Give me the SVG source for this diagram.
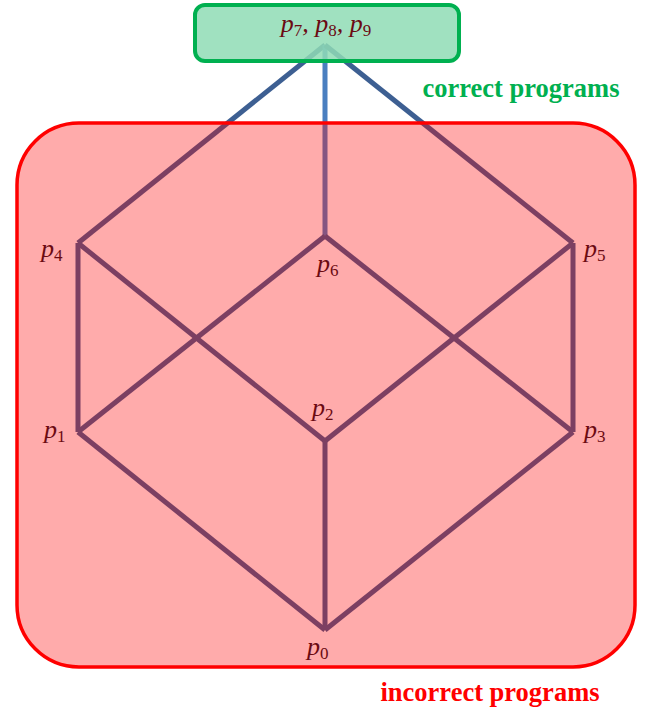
<svg xmlns="http://www.w3.org/2000/svg" width="651" height="713" viewBox="0 0 651 713">
<style>
.edge{stroke:#3d5f92;stroke-width:5;fill:none;stroke-linecap:butt}
.mid{stroke:#4a7fc0}
.lbl{font-family:"Liberation Serif",serif;font-style:italic;font-size:26px;fill:#6b0a12}
.sub{font-style:normal;font-size:17px}
.cap{font-family:"Liberation Serif",serif;font-weight:bold;font-size:26.5px}
</style>
<rect width="651" height="713" fill="#ffffff"/>
<g id="connectors">
<line class="edge" x1="325" y1="45" x2="78" y2="243"/>
<line class="edge mid" x1="325" y1="45" x2="325" y2="236"/>
<line class="edge" x1="325" y1="45" x2="573" y2="243"/>
<line class="edge" x1="78" y1="243" x2="78" y2="432"/>
<line class="edge" x1="78" y1="243" x2="325" y2="441"/>
<line class="edge" x1="325" y1="236" x2="78" y2="432"/>
<line class="edge" x1="325" y1="236" x2="573" y2="432"/>
<line class="edge" x1="573" y1="243" x2="325" y2="441"/>
<line class="edge" x1="573" y1="243" x2="573" y2="432"/>
<line class="edge" x1="78" y1="432" x2="325" y2="630"/>
<line class="edge" x1="325" y1="441" x2="325" y2="630"/>
<line class="edge" x1="573" y1="432" x2="325" y2="630"/>
</g>
<g id="incorrect">
<rect x="17" y="123" width="618" height="544" rx="62" fill="#ff0000" fill-opacity="0.33" stroke="#ff0000" stroke-width="3.5"/>
<text class="cap" x="490" y="701" text-anchor="middle" fill="#ff0000">incorrect programs</text>
</g>
<g id="correct">
<rect x="195" y="5" width="264" height="56" rx="10" fill="#8fdcb5" fill-opacity="0.85" stroke="#00b050" stroke-width="4"/>
<text class="lbl" x="326" y="32" text-anchor="middle">p<tspan class="sub" dy="4">7</tspan><tspan dy="-4">, p</tspan><tspan class="sub" dy="4">8</tspan><tspan dy="-4">, p</tspan><tspan class="sub" dy="4">9</tspan></text>
<text class="cap" x="521" y="97" text-anchor="middle" fill="#00b050">correct programs</text>
</g>
<g id="p4"><text class="lbl" x="41" y="257">p<tspan class="sub" dy="4">4</tspan></text></g>
<g id="p6"><text class="lbl" x="317" y="272">p<tspan class="sub" dy="4">6</tspan></text></g>
<g id="p5"><text class="lbl" x="584" y="257">p<tspan class="sub" dy="4">5</tspan></text></g>
<g id="p1"><text class="lbl" x="44" y="438">p<tspan class="sub" dy="4">1</tspan></text></g>
<g id="p2"><text class="lbl" x="312" y="416">p<tspan class="sub" dy="4">2</tspan></text></g>
<g id="p3"><text class="lbl" x="584" y="438">p<tspan class="sub" dy="4">3</tspan></text></g>
<g id="p0"><text class="lbl" x="307" y="655">p<tspan class="sub" dy="4">0</tspan></text></g>
</svg>
